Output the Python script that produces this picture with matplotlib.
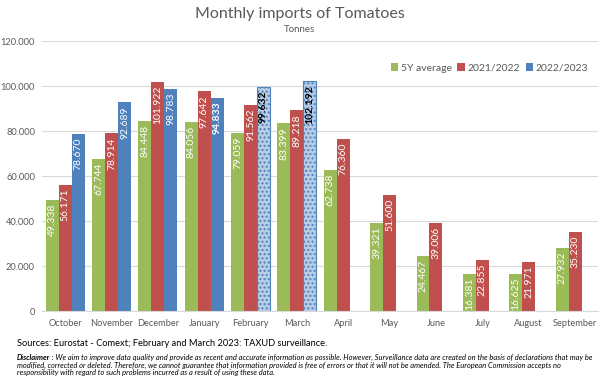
import matplotlib.pyplot as plt
import numpy as np

plt.rcParams["font.family"] = ["Lato", "DejaVu Sans"]
plt.rcParams["hatch.color"] = "white"

months = ["October", "November", "December", "January", "February", "March",
          "April", "May", "June", "July", "August", "September"]
avg5y = [49338, 67744, 84448, 84056, 79059, 83399, 62738, 39321, 24467, 16381, 16625, 27932]
y2122 = [56171, 78914, 101922, 97642, 91562, 89218, 76360, 51600, 39006, 22855, 21971, 35230]
y2223 = [78670, 92689, 98783, 94833, 99632, 102192]
# Feb and March 2023 are surveillance estimates (hatched)
estimated = [False, False, False, False, True, True]

GREEN = "#9BBB59"
RED = "#C0504D"
BLUE = "#4F81BD"
LIGHTBLUE = "#B9CDE5"
GREY = "#595959"

def fmt(v):
    return "{:,}".format(int(v)).replace(",", ".")

fig = plt.figure(figsize=(6, 3.89), dpi=100)
ax = fig.add_axes([0.07, 0.2005, 0.927, 0.694])

x = np.arange(len(months))
w = 0.28

def label(bar, v, color="white", bold=False):
    ax.text(bar.get_x() + bar.get_width() / 2, v - 1700, fmt(v),
            rotation=90, ha="center", va="top", color=color, fontsize=7.5,
            fontweight="bold" if bold else "normal")

bars = ax.bar(x - w, avg5y, w, color=GREEN, label="5Y average")
for b, v in zip(bars, avg5y):
    label(b, v)
bars = ax.bar(x, y2122, w, color=RED, label="2021/2022")
for b, v in zip(bars, y2122):
    label(b, v)
for i, v in enumerate(y2223):
    if estimated[i]:
        b = ax.bar(x[i] + w, v, w, color=LIGHTBLUE, edgecolor=BLUE, linewidth=0.8,
                   hatch="....")[0]
        label(b, v, color="black", bold=True)
    else:
        b = ax.bar(x[i] + w, v, w, color=BLUE,
                   label="2022/2023" if i == 0 else None)[0]
        label(b, v, bold=(i == 3))

ax.set_xlim(-0.5, len(months) - 0.5)
ax.set_ylim(0, 120000)
ticks = np.arange(0, 120001, 20000)
ax.set_yticks(ticks)
ax.set_yticklabels([fmt(t) for t in ticks])
ax.set_xticks(x)
ax.set_xticklabels(months)
ax.tick_params(axis="both", length=0, labelsize=6.7, colors=GREY)
ax.tick_params(axis="x", pad=6)
ax.tick_params(axis="y", pad=5)
ax.grid(axis="y", color="#D9D9D9", linewidth=0.8)
ax.set_axisbelow(True)
for s in ["top", "right", "left"]:
    ax.spines[s].set_visible(False)
ax.spines["bottom"].set_color("#D9D9D9")

ax.legend(loc="center right", bbox_to_anchor=(0.99, 0.9), ncol=3, frameon=False,
          fontsize=7.5, handlelength=0.7, handleheight=0.7, columnspacing=0.5,
          handletextpad=0.3, labelcolor=GREY, borderaxespad=0)

fig.text(0.5, 0.963, "Monthly imports of Tomatoes", ha="center", va="center",
         fontsize=11.5, color=GREY)
fig.text(0.5, 0.925, "Tonnes", ha="center", va="center", fontsize=7, color=GREY)

fig.text(0.028, 1 - 344 / 389, "Sources: Eurostat - Comext; February and March 2023: TAXUD surveillance.",
         fontsize=6.7, va="center")

lines = ["We aim to improve data quality and provide as recent and accurate information as possible. "
         "However, Surveillance data are created on the basis of declarations that may be",
         "modified, corrected or deleted. Therefore, we cannot guarantee that information provided "
         "is free of errors or that it will not be amended. The European Commission accepts no",
         "responsibility with regard to such problems incurred as a result of using these data."]
ys = [357, 365, 372]
fig.canvas.draw()
rend = fig.canvas.get_renderer()
head = fig.text(0.028, 1 - ys[0] / 389, "Disclaimer", fontsize=5.4, style="italic",
                fontweight="bold", va="center")
hx = head.get_window_extent(rend).x1 / fig.bbox.width
fig.text(hx, 1 - ys[0] / 389, " : " + lines[0], fontsize=5.4, style="italic", va="center")
for ln, yy in zip(lines[1:], ys[1:]):
    fig.text(0.028, 1 - yy / 389, ln, fontsize=5.4, style="italic", va="center")

fig.savefig("out.png", dpi=100)
